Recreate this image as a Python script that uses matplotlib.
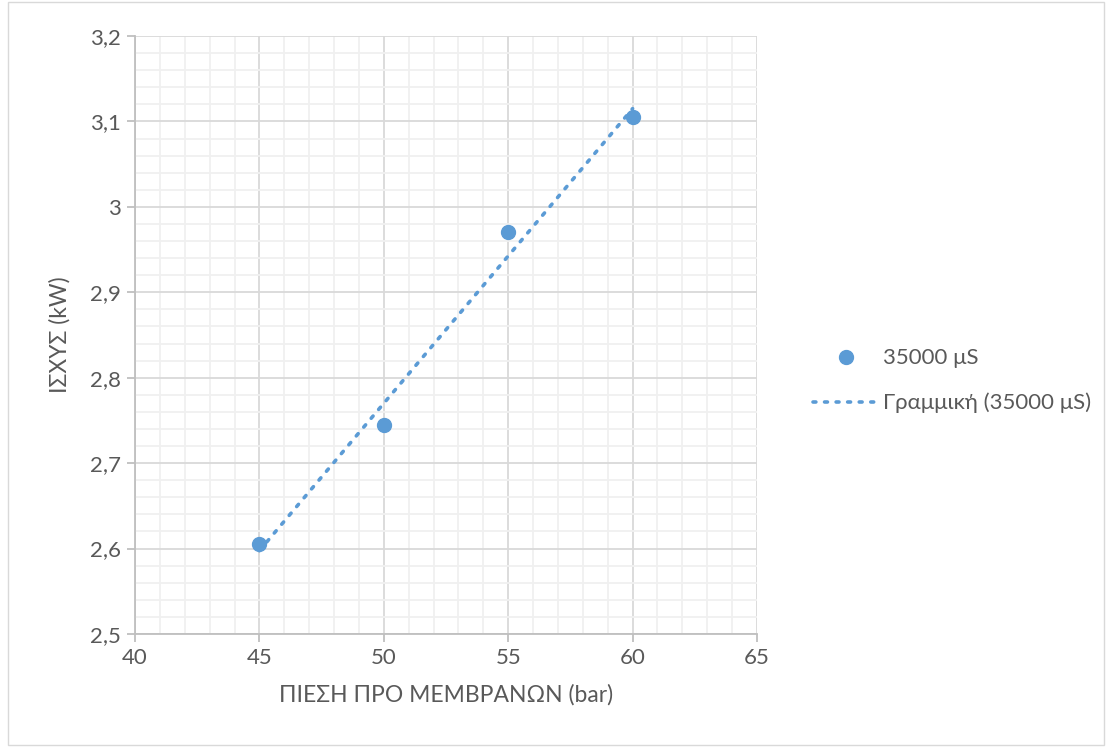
import matplotlib.pyplot as plt
import numpy as np
from matplotlib.ticker import MultipleLocator, FuncFormatter
from matplotlib.patches import Rectangle

# πίεση προ μεμβρανών (bar) και ισχύς (kW)
pressure = np.array([45, 50, 55, 60])
power = np.array([2.605, 2.745, 2.97, 3.105])
series_name = '35000 μS'
trend_name = 'Γραμμική (35000 μS)'

plt.rcParams['font.family'] = ['Lato', 'DejaVu Sans']
col = '#5B9BD5'
txt = '#595959'

fig = plt.figure(figsize=(11.1, 7.47), dpi=100)
ax = fig.add_axes([0.1216, 0.1513, 0.5604, 0.8005])

# γραμμική τάση (ελάχιστα τετράγωνα)
k, b = np.polyfit(pressure, power, 1)
xt = np.array([pressure.min(), pressure.max()])
ax.plot(xt, k * xt + b, linestyle=(0, (0.8, 2.4)), color=col, lw=2.6,
        dash_capstyle='round', label=trend_name, zorder=3)
ax.plot(pressure, power, 'o', color=col, ms=10, label=series_name,
        zorder=4, linestyle='none')

ax.set_xlim(40, 65)
ax.set_ylim(2.5, 3.2)
ax.xaxis.set_major_locator(MultipleLocator(5))
ax.xaxis.set_minor_locator(MultipleLocator(1))
ax.yaxis.set_major_locator(MultipleLocator(0.1))
ax.yaxis.set_minor_locator(MultipleLocator(0.02))
ax.yaxis.set_major_formatter(FuncFormatter(lambda v, p: f'{v:.1f}'.replace('.', ',').replace(',0', '')))

ax.grid(which='major', color='#D9D9D9', lw=1.3)
ax.grid(which='minor', color='#F0F0F0', lw=1.3)
ax.set_axisbelow(True)

for s in ['top', 'right']:
    ax.spines[s].set_visible(False)
for s in ['left', 'bottom']:
    ax.spines[s].set_color('#BFBFBF')
    ax.spines[s].set_linewidth(1.3)
ax.tick_params(which='major', length=6, color='#BFBFBF', width=1.3,
               labelsize=16, labelcolor=txt, pad=4)
ax.tick_params(which='minor', length=0)

ax.set_xlabel('ΠΙΕΣΗ ΠΡΟ ΜΕΜΒΡΑΝΩΝ (bar)', fontsize=16.5, color=txt, labelpad=12)
ax.set_ylabel('ΙΣΧΥΣ (kW)', fontsize=16.5, color=txt, labelpad=14)

h, l = ax.get_legend_handles_labels()
leg = fig.legend([h[1], h[0]], [l[1], l[0]], loc='center left',
                 bbox_to_anchor=(0.714, 0.49), frameon=False, fontsize=16,
                 labelcolor=txt, handlelength=3.05, labelspacing=1.1,
                 handletextpad=0.1)

fig.patches.append(Rectangle((0.007, 0.003), 0.988, 0.994, transform=fig.transFigure,
                             fill=False, edgecolor='#D9D9D9', lw=1))

fig.savefig('out.png', dpi=100)
